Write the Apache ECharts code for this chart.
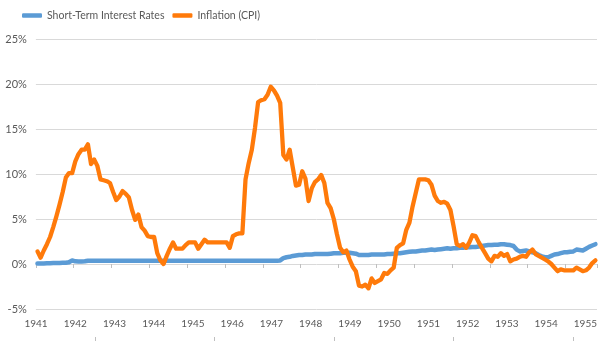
<!DOCTYPE html>
<html><head><meta charset="utf-8">
<script src="https://cdn.jsdelivr.net/npm/echarts@6/dist/echarts.min.js"></script>
<style>html,body{margin:0;padding:0;background:#fff}#c{width:600px;height:341px}</style>
</head><body><div id="c"></div>
<script>
// Year labels shown under the chart
const yearLabels = ['1941','1942','1943','1944','1945','1946','1947','1948','1949','1950','1951','1952','1953','1954','1955'];
// Y ticks (%)
const yMin = -5, yMax = 25, yStep = 5;
// Monthly observations, Jan 1941 .. Oct 1955 (178 months)
const seriesNames = ['Short-Term Interest Rates', 'Inflation (CPI)'];
const shortRates = [
  0.05,0.05,0.05,0.07,0.08,0.1,0.1,0.12,
  0.15,0.15,0.2,0.4,0.3,0.27,0.27,0.3,0.36,
  0.37,0.37,0.37,0.37,0.37,0.37,0.37,0.37,0.37,0.37,0.37,0.37,
  0.37,0.37,0.37,0.37,0.37,0.37,0.37,0.37,0.37,0.37,0.37,0.37,
  0.37,0.37,0.37,0.37,0.37,0.37,0.37,0.37,0.37,0.37,0.37,0.37,
  0.37,0.37,0.37,0.37,0.37,0.37,0.37,0.37,0.37,0.37,0.37,0.37,
  0.37,0.37,0.37,0.37,0.37,0.37,0.37,0.37,0.37,0.37,0.37,0.37,
  0.4,0.65,0.75,0.8,0.9,0.95,1.0,1.0,1.05,1.05,1.05,1.1,1.1,1.1,1.1,1.1,
  1.15,1.2,1.2,1.2,1.25,1.25,1.25,1.2,1.15,
  1.0,1.0,1.0,1.0,1.05,1.05,1.05,1.05,1.05,
  1.1,1.1,1.15,1.2,1.2,1.25,1.3,1.35,1.4,1.4,1.45,1.5,1.5,
  1.55,1.6,1.55,1.6,1.65,1.7,1.75,1.7,1.75,1.75,1.8,1.8,1.85,1.85,1.9,1.9,
  1.95,2.0,2.05,2.1,2.1,2.15,2.15,2.2,2.2,2.15,2.1,2.0,
  1.6,1.4,1.45,1.5,1.4,1.3,1.2,1.0,0.85,0.75,0.75,0.9,
  1.05,1.1,1.2,1.3,1.3,1.35,1.4,1.6,1.55,1.5,1.7,1.9,2.05,2.2
];
const inflation = [
  1.4,0.7,1.5,2.2,3.0,4.1,5.3,6.6,8.0,9.6,
  10.1,10.1,11.4,12.2,12.7,12.7,13.3,11.1,11.6,10.9,
  9.4,9.3,9.2,9.0,8.0,7.1,7.5,8.1,7.8,7.4,
  6.0,4.9,5.5,4.1,3.7,3.1,3.0,3.0,1.2,0.4,
  0.0,0.9,1.7,2.4,1.7,1.7,1.7,2.1,2.4,2.4,
  2.4,1.7,2.2,2.7,2.4,2.4,2.4,2.4,2.4,2.4,
  2.4,1.8,3.1,3.3,3.4,3.4,9.4,11.2,12.7,15.1,
  18.0,18.2,18.3,18.8,19.7,19.3,18.7,17.9,12.1,11.6,
  12.7,10.7,8.7,8.8,10.3,9.5,7.0,8.4,9.1,9.4,
  9.9,9.0,6.8,6.2,5.0,3.3,1.8,1.3,1.5,0.5,
  -0.3,-0.8,-2.4,-2.5,-2.3,-2.7,-1.6,-2.1,-1.9,-1.7,
  -1.0,-1.1,-0.7,-0.4,1.8,2.1,2.3,3.8,4.6,6.4,
  7.9,9.4,9.4,9.4,9.3,8.8,7.6,7.0,6.8,6.9,
  6.7,6.0,4.2,2.2,2.0,2.2,1.8,2.4,3.2,3.1,
  2.4,1.8,1.2,0.6,0.3,0.9,0.8,1.2,0.9,1.1,
  0.3,0.5,0.6,0.8,0.9,0.8,1.3,1.6,1.1,0.9,
  0.7,0.5,0.3,0.0,-0.4,-0.8,-0.6,-0.7,-0.7,-0.7,
  -0.7,-0.4,-0.6,-0.8,-0.7,-0.4,0.1,0.4
];

const monthIndex = inflation.map((_, i) => i);
const pair = (vals) => vals.map((v, i) => [monthIndex[i], v]);

const FONT = 'Lato';
const TXT = '#595959';
const GRID = '#D9D9D9';

const chart = echarts.init(document.getElementById('c'), null, {renderer: 'canvas'});
chart.setOption({
  animation: false,
  backgroundColor: '#ffffff',
  textStyle: {fontFamily: FONT},
  legend: {
    left: 17, top: 5, itemGap: 8, itemWidth: 20, itemHeight: 4.5,
    icon: 'roundRect',
    textStyle: {fontFamily: FONT, fontSize: 10.5, color: TXT},
    data: seriesNames
  },
  grid: [
    {left: 35.9, right: 3, top: 39, height: 270},
    {left: 36, right: 8.3, top: 309, height: 1},
    {left: 94.8, right: 27, top: 336, height: 1}
  ],
  xAxis: [
    {
      type: 'value', gridIndex: 0, min: -0.5, max: monthIndex.length - 0.5, interval: 12,
      axisLine: {show: false, onZero: true},
      axisTick: {show: true, length: 4, lineStyle: {color: '#BFBFBF', width: 1}},
      axisLabel: {show: false}, splitLine: {show: false}
    },
    {
      type: 'value', gridIndex: 1, min: 0, max: yearLabels.length - 1, interval: 1,
      axisLine: {show: false}, axisTick: {show: false}, splitLine: {show: false},
      axisLabel: {
        show: true, margin: 9, fontSize: 10, color: TXT, fontFamily: FONT,
        showMinLabel: true, showMaxLabel: true,
        formatter: (v) => yearLabels[Math.round(v)] || ''
      }
    },
    {
      type: 'value', gridIndex: 2, min: 0, max: 4, interval: 1,
      axisLine: {show: false}, splitLine: {show: false}, axisLabel: {show: false},
      axisTick: {show: true, length: 4, lineStyle: {color: '#BFBFBF', width: 1}}
    }
  ],
  yAxis: [
    {
      type: 'value', gridIndex: 0, min: yMin, max: yMax, interval: yStep,
      axisLine: {show: false}, axisTick: {show: false},
      axisLabel: {margin: 9, fontSize: 11, color: TXT, fontFamily: FONT, formatter: '{value}%'},
      splitLine: {lineStyle: {color: GRID, width: 1}}
    },
    {type: 'value', gridIndex: 1, show: false},
    {type: 'value', gridIndex: 2, show: false}
  ],
  series: [
    {
      name: seriesNames[0], type: 'line', xAxisIndex: 0, yAxisIndex: 0,
      data: pair(shortRates), symbol: 'none', showSymbol: false,
      color: '#5B9BD5',
      lineStyle: {width: 4.5, color: '#5B9BD5', cap: 'round', join: 'round'}
    },
    {
      name: seriesNames[1], type: 'line', xAxisIndex: 0, yAxisIndex: 0,
      data: pair(inflation), symbol: 'none', showSymbol: false,
      color: '#FF7A0A',
      lineStyle: {width: 4.3, color: '#FF7A0A', cap: 'round', join: 'round'}
    }
  ]
});
</script></body></html>
